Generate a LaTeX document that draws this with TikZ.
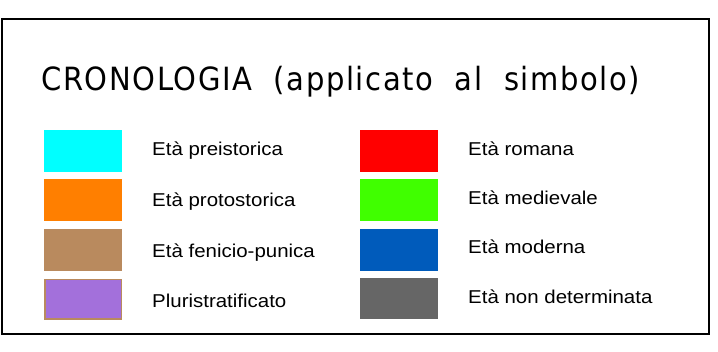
\documentclass[tikz,border=0pt]{standalone}
\usepackage{fontspec}
\usepackage{graphicx}
\setmainfont{Liberation Sans}
\newfontfamily\cadfont{DejaVu Sans Condensed}[LetterSpace=5,WordSpace=2.0]
\definecolor{cPre}{HTML}{00FFFF}
\definecolor{cProto}{HTML}{FF7F00}
\definecolor{cFen}{HTML}{B98A5E}
\definecolor{cPluri}{HTML}{A370DB}
\definecolor{cRom}{HTML}{FF0000}
\definecolor{cMed}{HTML}{40FF00}
\definecolor{cMod}{HTML}{005BBB}
\definecolor{cNd}{HTML}{666666}
\tikzset{
  lbl/.style={anchor=base west, inner sep=0pt, font=\fontsize{18.6}{20}\selectfont},
}
\newcommand{\lab}[1]{\scalebox{1.1}[1]{#1}}
\begin{document}
\begin{tikzpicture}[x=1pt,y=-1pt]
\useasboundingbox[fill=white] (0,0) rectangle (718,352);
\draw[line width=2pt] (1.5,19) rectangle (708.5,334);
\node[anchor=base west, inner sep=0pt] (title) at (41,91)
  {\resizebox{599pt}{\height}{\cadfont\fontsize{32}{34}\selectfont CRONOLOGIA (applicato al simbolo)}};
% left column
\fill[cPre] (44,130) rectangle (122,172);
\fill[cProto] (44,179) rectangle (122,221);
\fill[cFen] (44,229) rectangle (122,271);
\filldraw[fill=cPluri, draw=cFen, line width=1.5pt] (44.75,279.75) rectangle (121.25,319.25);
\node[lbl] (l1) at (152,156) {\lab{Età preistorica}};
\node[lbl] (l2) at (152,207) {\lab{Età protostorica}};
\node[lbl] (l3) at (152,258) {\lab{Età fenicio-punica}};
\node[lbl] (l4) at (152,308) {\lab{Pluristratificato}};
% right column
\fill[cRom] (360,130) rectangle (438,172);
\fill[cMed] (360,179) rectangle (438,221);
\fill[cMod] (360,229) rectangle (438,271);
\fill[cNd] (360,278) rectangle (438,319);
\node[lbl] (r1) at (468,156) {\lab{Età romana}};
\node[lbl] (r2) at (468,205) {\lab{Età medievale}};
\node[lbl] (r3) at (468,254) {\lab{Età moderna}};
\node[lbl] (r4) at (468,304) {\lab{Età non determinata}};
\end{tikzpicture}
\end{document}
